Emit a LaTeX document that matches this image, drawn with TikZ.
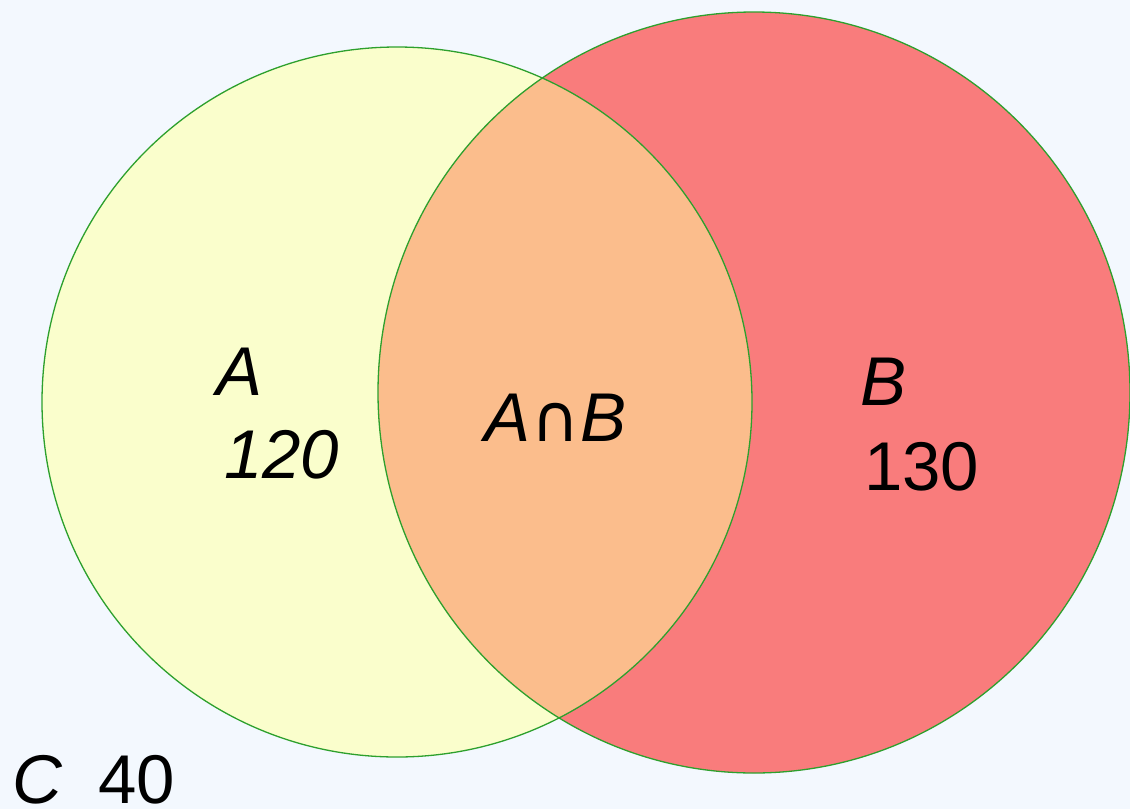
\documentclass[tikz,border=0pt]{standalone}
\usepackage{fontspec}
\setmainfont{Liberation Sans}
\newfontfamily\symfont{DejaVu Sans}
\definecolor{bgc}{RGB}{243,248,254}
\definecolor{afill}{RGB}{250,254,204}
\definecolor{bfill}{RGB}{249,124,124}
\definecolor{abfill}{RGB}{251,189,140}
\definecolor{edge}{RGB}{45,160,45}
\tikzset{
  lbl/.style={anchor=base west, inner sep=0pt, font=\fontsize{69}{80}\selectfont, text=black},
  setedge/.style={draw=edge, line width=1.3pt}
}
\begin{document}
\begin{tikzpicture}[x=1pt,y=-1pt]
\useasboundingbox (0,0) rectangle (1130,809);
\fill[bgc] (0,0) rectangle (1130,809);
\clip (0,0) rectangle (1130,809);
\fill[afill] (397,402) circle (355);
\fill[bfill] (754,392.5) ellipse [x radius=376, y radius=380.5];
\begin{scope}
  \clip (397,402) circle (355);
  \fill[abfill] (754,392.5) ellipse [x radius=376, y radius=380.5];
\end{scope}
\draw[setedge] (397,402) circle (355);
\draw[setedge] (754,392.5) ellipse [x radius=376, y radius=380.5];
\node[lbl] (la) at (216,395) {\itshape A};
\node[lbl] (na) at (224,478) {\itshape 120};
\node[lbl] (lab) at (484,441) {{\itshape A}\kern1pt{\symfont\fontsize{66}{80}\selectfont ∩}\kern1pt{\itshape B}};
\node[lbl] (lb) at (860,405) {\itshape B};
\node[lbl] (nb) at (864,490) {130};
\node[lbl] (lc) at (12,803) {\itshape C};
\node[lbl] (nc) at (98,803) {40};
\end{tikzpicture}
\end{document}
